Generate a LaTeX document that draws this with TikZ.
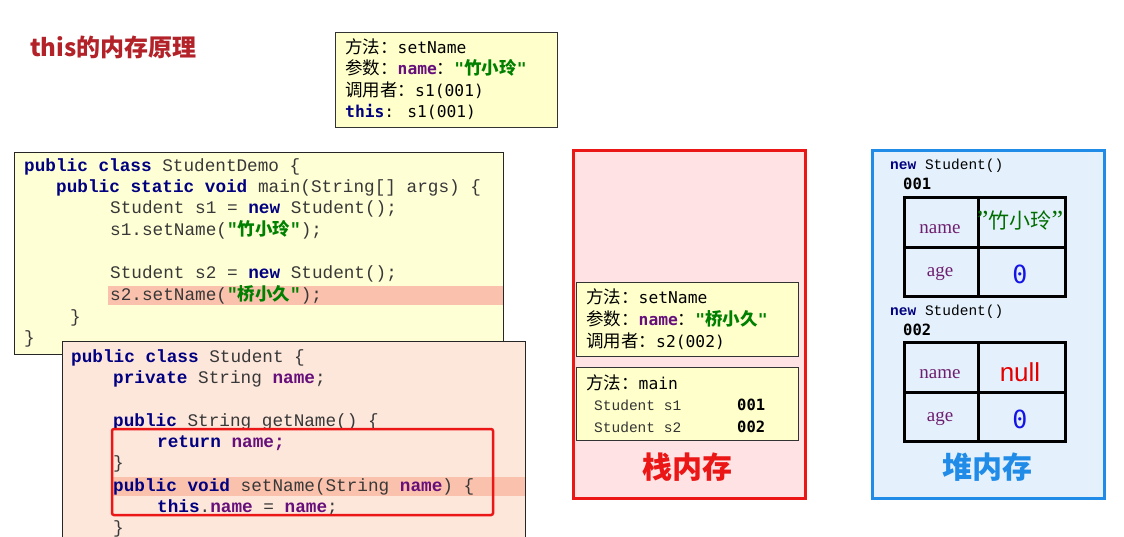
\documentclass[tikz,border=0pt]{standalone}
\usepackage{fontspec}
\usetikzlibrary{positioning}
\newfontfamily\cjk{Noto Sans CJK SC}
\newfontfamily\javafont{Liberation Mono}
\newfontfamily\notefont{DejaVu Sans Mono}
\newfontfamily\cellrm{Liberation Serif}
\newfontfamily\cellsf{Liberation Sans}
\definecolor{TitleRed}{RGB}{178,34,40}
\definecolor{NoteYellow}{RGB}{255,255,204}
\definecolor{CodeYellow}{RGB}{255,255,214}
\definecolor{CodePeach}{RGB}{253,230,218}
\definecolor{BandSalmon}{RGB}{250,194,172}
\definecolor{KeyNavy}{RGB}{0,0,128}
\definecolor{FieldPurple}{RGB}{102,14,122}
\definecolor{StrGreen}{RGB}{0,128,0}
\definecolor{StackRed}{RGB}{235,22,22}
\definecolor{StackPink}{RGB}{255,226,228}
\definecolor{HeapBlue}{RGB}{33,140,232}
\definecolor{HeapSky}{RGB}{228,241,252}
\definecolor{CellPurple}{RGB}{110,30,110}
\definecolor{ZeroBlue}{RGB}{20,20,230}
\newcommand{\zh}[1]{{\cjk\fontsize{17.5}{21}\selectfont #1}}
\newcommand{\kw}[1]{\textcolor{KeyNavy}{\bfseries #1}}
\newcommand{\fld}[1]{\textcolor{FieldPurple}{\bfseries #1}}
\newcommand{\strlit}[1]{\textcolor{StrGreen}{\bfseries #1}}

\begin{document}
\begin{tikzpicture}[x=1pt, y=-1pt,
    code/.style={anchor=base west, inner sep=0pt, text=black!78,
        font=\javafont\fontsize{17.7}{21}\selectfont},
    note/.style={anchor=base west, inner sep=0pt, text=black,
        font=\notefont\fontsize{16.3}{21}\selectfont},
    notebox/.style={draw=black!80, line width=1.2pt, fill=NoteYellow, anchor=north west, inner sep=0pt},
    cell/.style={draw=black, line width=3pt, anchor=north west, inner sep=0pt},
    celltxt/.style={inner sep=0pt, text=CellPurple, font=\cellrm\fontsize{19}{19}\selectfont},
    newobj/.style={anchor=base west, inner sep=0pt, font=\javafont\fontsize{14.5}{16}\selectfont},
    addr/.style={anchor=base west, inner sep=0pt, font=\notefont\bfseries\fontsize{15.5}{16}\selectfont},
    area/.style={inner sep=0pt, font=\cjk\bfseries\fontsize{30}{30}\selectfont}]

\useasboundingbox (0,0) rectangle (1124,537);
\clip (0,0) rectangle (1124,537);
\fill[white] (0,0) rectangle (1124,537);

% title
\node[anchor=west, inner sep=0pt, text=TitleRed, font=\cjk\bfseries\fontsize{24}{24}\selectfont]
    (title) at (30,47) {this的内存原理};

% call frame shown on top
\node[notebox, minimum width=222pt, minimum height=95pt] (top) at (335,32) {};
\node[note] (t1) at (345,54) {\zh{方法：}setName};
\node[note] (t2) at (345,75) {\zh{参数：}\fld{name}\zh{：}\strlit{"\zh{竹小玲}"}};
\node[note] (t3) at (345,97) {\zh{调用者：}s1(001)};
\node[note] (t4) at (345,118) {\kw{this}:  s1(001)};

% StudentDemo
\node[draw=black!85, line width=1.2pt, fill=CodeYellow, anchor=north west, inner sep=0pt,
      minimum width=489pt, minimum height=202pt] (demo) at (14,152) {};
\fill[BandSalmon] (108,286) rectangle (503,305);
\node[code] (d1) at (24,172) {\kw{public class} StudentDemo \{};
\node[code] (d2) at (56,193) {\kw{public static void} main(String[] args) \{};
\node[code] (d3) at (110,214) {Student s1 = \kw{new} Student();};
\node[code] (d4) at (110,236) {s1.setName(\strlit{"\zh{竹小玲}"});};
\node[code] (d5) at (110,279) {Student s2 = \kw{new} Student();};
\node[code] (d6) at (110,301) {s2.setName(\strlit{"\zh{桥小久}"});};
\node[code] (d7) at (70,322) {\}};
\node[code] (d8) at (24,343) {\}};

% Student
\node[draw=black!85, line width=1.2pt, fill=CodePeach, anchor=north west, inner sep=0pt,
      minimum width=463pt, minimum height=215pt] (stud) at (62,341) {};
\fill[BandSalmon] (113,477) rectangle (525,496);
\node[code] (c1) at (71,362) {\kw{public class} Student \{};
\node[code] (c2) at (113,383) {\kw{private} String \fld{name};};
\node[code] (c3) at (113,426) {\kw{public} String getName() \{};
\node[code] (c4) at (157,447) {\kw{return} \fld{name;}};
\node[code] (c5) at (113,468) {\}};
\node[code] (c6) at (113,491) {\kw{public void} setName(String \fld{name}) \{};
\node[code] (c7) at (157,512) {\kw{this}.\fld{name} = \fld{name};};
\node[code] (c8) at (113,533) {\}};
\draw[StackRed, line width=2.5pt, rounded corners=2pt] (112,429) rectangle (493,515);

% stack
\node[draw=StackRed, line width=3pt, fill=StackPink, anchor=north west, inner sep=0pt,
      minimum width=232pt, minimum height=348pt] (stack) at (572,149) {};
\node[notebox, minimum width=222pt, minimum height=74pt] (frame2) at (576,282) {};
\node[note] (s1) at (586,304) {\zh{方法：}setName};
\node[note] (s2) at (586,325) {\zh{参数：}\fld{name}\zh{：}\strlit{"\zh{桥小久}"}};
\node[note] (s3) at (586,347) {\zh{调用者：}s2(002)};
\node[notebox, minimum width=222pt, minimum height=73pt] (frame1) at (576,367) {};
\node[note] (m1) at (586,389) {\zh{方法：}main};
\node[newobj, text=black!80] (m2) at (594,410) {Student s1};
\node[addr] (m3) at (737,410) {001};
\node[newobj, text=black!80] (m4) at (594,432) {Student s2};
\node[addr] (m5) at (737,432) {002};
\node[area, text=StackRed] (stacklbl) at (687,467) {栈内存};

% heap
\node[draw=HeapBlue, line width=3pt, fill=HeapSky, anchor=north west, inner sep=0pt,
      minimum width=232pt, minimum height=348pt] (heap) at (871,149) {};
\node[newobj] (h1) at (890,170) {\kw{new} Student()};
\node[addr] (h2) at (903,190) {001};
\node[cell, minimum width=74pt, minimum height=50pt] (a1) at (903,196) {};
\node[cell, minimum width=87pt, minimum height=50pt] (a2) at (977,196) {};
\node[cell, minimum width=74pt, minimum height=49pt] (a3) at (903,246) {};
\node[cell, minimum width=87pt, minimum height=49pt] (a4) at (977,246) {};
\node[celltxt] (a1t) at (940,229) {name};
\node[inner sep=0pt, text=StrGreen!85!black, font=\cjk\fontsize{21}{21}\selectfont]
    (a2t) at (1020,221) {{\cellrm\fontsize{26}{26}\selectfont ”}竹小玲{\cellrm\fontsize{26}{26}\selectfont ”}};
\node[celltxt] (a3t) at (940,274) {age};
\node[inner sep=0pt, text=ZeroBlue, font=\notefont\fontsize{25}{25}\selectfont] (a4t) at (1020,274) {0};

\node[newobj] (h3) at (890,316) {\kw{new} Student()};
\node[addr] (h4) at (903,335) {002};
\node[cell, minimum width=74pt, minimum height=50pt] (b1) at (903,341) {};
\node[cell, minimum width=87pt, minimum height=50pt] (b2) at (977,341) {};
\node[cell, minimum width=74pt, minimum height=49pt] (b3) at (903,391) {};
\node[cell, minimum width=87pt, minimum height=49pt] (b4) at (977,391) {};
\node[celltxt] (b1t) at (940,374) {name};
\node[inner sep=0pt, text=red!90!black, font=\cellsf\fontsize{26}{26}\selectfont] (b2t) at (1020,372) {null};
\node[celltxt] (b3t) at (940,419) {age};
\node[inner sep=0pt, text=ZeroBlue, font=\notefont\fontsize{25}{25}\selectfont] (b4t) at (1020,419) {0};
\node[area, text=HeapBlue] (heaplbl) at (987,467) {堆内存};

\end{tikzpicture}
\end{document}
